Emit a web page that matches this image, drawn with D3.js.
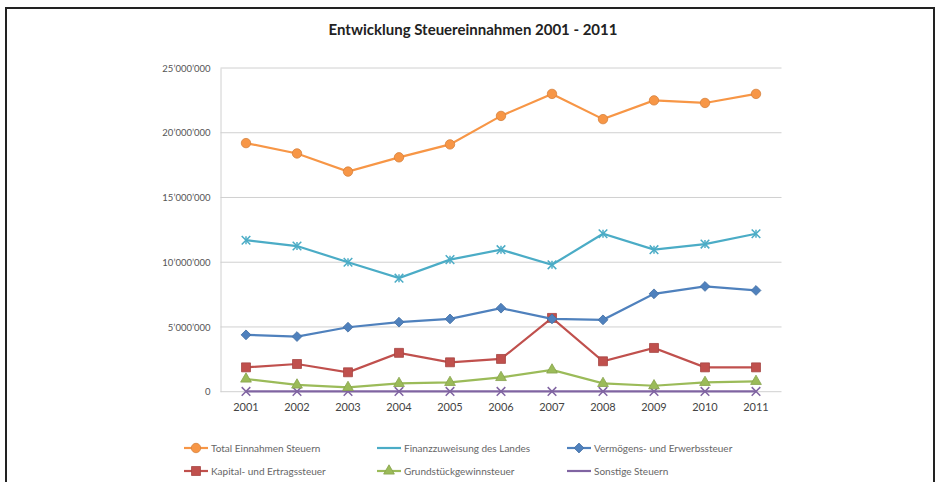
<!DOCTYPE html>
<html>
<head>
<meta charset="utf-8">
<script src="https://cdn.jsdelivr.net/npm/d3@7"></script>
<style>
  body { margin: 0; background: #fff; }
  svg { display: block; font-family: Lato, "Open Sans", sans-serif; }
</style>
</head>
<body>
<svg id="chart" width="938" height="482"></svg>
<script>
const years = ['2001', '2002', '2003', '2004', '2005', '2006', '2007', '2008', '2009', '2010', '2011'];

const totalEinnahmen = [19200000, 18400000, 17000000, 18100000, 19100000, 21300000, 23000000, 21050000, 22500000, 22300000, 23000000];
const finanzzuweisung = [11700000, 11250000, 10000000, 8770000, 10200000, 10970000, 9800000, 12200000, 10970000, 11400000, 12200000];
const vermoegensSteuer = [4390000, 4260000, 4980000, 5370000, 5620000, 6450000, 5620000, 5550000, 7560000, 8130000, 7820000];
const kapitalSteuer = [1880000, 2140000, 1500000, 3000000, 2270000, 2530000, 5700000, 2350000, 3380000, 1880000, 1880000];
const grundstueckSteuer = [980000, 520000, 330000, 640000, 720000, 1100000, 1680000, 640000, 460000, 720000, 800000];
const sonstigeSteuern = [20000, 20000, 20000, 20000, 20000, 20000, 20000, 20000, 20000, 20000, 20000];

const yTicks = [0, 5000000, 10000000, 15000000, 20000000, 25000000];

const seriesNames = [
  'Total Einnahmen Steuern', 'Finanzzuweisung des Landes', 'Vermögens- und Erwerbssteuer',
  'Kapital- und Ertragssteuer', 'Grundstückgewinnsteuer', 'Sonstige Steuern'
];

const series = [
  { name: seriesNames[0], values: totalEinnahmen, color: '#F79646', marker: 'circle' },
  { name: seriesNames[1], values: finanzzuweisung, color: '#4BACC6', marker: 'star' },
  { name: seriesNames[2], values: vermoegensSteuer, color: '#4F81BD', marker: 'diamond' },
  { name: seriesNames[3], values: kapitalSteuer, color: '#C0504D', marker: 'square' },
  { name: seriesNames[4], values: grundstueckSteuer, color: '#9BBB59', marker: 'triangle' },
  { name: seriesNames[5], values: sonstigeSteuern, color: '#8064A2', marker: 'cross' }
];

const svg = d3.select('#chart');

// frame of the scanned picture
svg.append('path')
  .attr('d', 'M6,490 V8 H934 V490')
  .attr('fill', 'none')
  .attr('stroke', '#222')
  .attr('stroke-width', 2);

svg.append('text')
  .attr('x', 473)
  .attr('y', 35)
  .attr('text-anchor', 'middle')
  .attr('font-size', 15)
  .attr('font-weight', 'bold')
  .attr('fill', '#222')
  .text('Entwicklung Steuereinnahmen 2001 - 2011');

const plot = { left: 220.5, right: 781.5, top: 68, bottom: 391.7 };

const scaleX = d3.scaleBand()
  .domain(years)
  .range([plot.left, plot.right]);

const scaleY = d3.scaleLinear()
  .domain([0, 25000000])
  .range([plot.bottom, plot.top]);

const fmt = v => d3.format(',')(v).replace(/,/g, '\u2019');

// gridlines
svg.append('g')
  .selectAll('line')
  .data(yTicks)
  .join('line')
  .attr('x1', plot.left)
  .attr('x2', plot.right)
  .attr('y1', d => scaleY(d))
  .attr('y2', d => scaleY(d))
  .attr('stroke', '#d0d0d0')
  .attr('stroke-width', 1);

const axisY = d3.axisLeft(scaleY)
  .tickValues(yTicks)
  .tickFormat(fmt)
  .tickSize(0)
  .tickPadding(10);

const groupAxisY = svg.append('g')
  .attr('transform', `translate(${plot.left},0)`)
  .call(axisY);
groupAxisY.select('.domain')
  .attr('stroke', '#d0d0d0');
groupAxisY.selectAll('text')
  .attr('font-size', 9.5)
  .attr('font-family', 'Lato, sans-serif')
  .attr('fill', '#555');

const axisX = d3.axisBottom(scaleX)
  .tickSize(0)
  .tickPadding(12);

const groupAxisX = svg.append('g')
  .attr('transform', `translate(0,${plot.bottom})`)
  .call(axisX);
groupAxisX.select('.domain').remove();
groupAxisX.selectAll('text')
  .attr('font-size', 11)
  .attr('font-family', 'Lato, sans-serif')
  .attr('fill', '#444');

const symbolFor = {
  circle: d3.symbol(d3.symbolCircle, 70),
  diamond: d3.symbol(d3.symbolSquare, 48),
  square: d3.symbol(d3.symbolSquare, 80),
  triangle: d3.symbol(d3.symbolTriangle, 50),
  star: d3.symbol(d3.symbolTimes, 50),
  cross: d3.symbol(d3.symbolTimes, 50)
};

const line = d3.line()
  .x((d, i) => scaleX(years[i]) + scaleX.bandwidth() / 2)
  .y(d => scaleY(d));

const drawMarker = (g, s, x, y) => {
  const rot = s.marker === 'diamond' ? ' rotate(45)' : '';
  const m = g.append('path')
    .attr('transform', `translate(${x},${y})${rot}`)
    .attr('d', symbolFor[s.marker]());
  if (s.marker === 'star' || s.marker === 'cross') {
    m.attr('fill', 'none').attr('stroke', s.color).attr('stroke-width', 1.5);
    if (s.marker === 'star') {
      g.append('line')
        .attr('x1', x).attr('x2', x)
        .attr('y1', y - 4).attr('y2', y + 4)
        .attr('stroke', s.color).attr('stroke-width', 1.5);
    }
  } else {
    m.attr('fill', s.color).attr('stroke', d3.color(s.color).darker(0.4)).attr('stroke-width', 0.8);
  }
};

// draw bottom series first so total ends on top
series.slice().reverse().forEach(s => {
  const g = svg.append('g');
  g.append('path')
    .attr('d', line(s.values))
    .attr('fill', 'none')
    .attr('stroke', s.color)
    .attr('stroke-width', 2.2);
  s.values.forEach((v, i) => {
    drawMarker(g, s, scaleX(years[i]) + scaleX.bandwidth() / 2, scaleY(v));
  });
});

// legend
const legendCols = [184, 377, 567];
const legendRows = [448, 471];
series.forEach((s, i) => {
  const x = legendCols[i % 3];
  const y = legendRows[Math.floor(i / 3)];
  const g = svg.append('g');
  g.append('line')
    .attr('x1', x).attr('x2', x + 24)
    .attr('y1', y).attr('y2', y)
    .attr('stroke', s.color)
    .attr('stroke-width', 2.2);
  if (s.marker !== 'star' && s.marker !== 'cross') {
    drawMarker(g, s, x + 12, y);
  }
  g.append('text')
    .attr('x', x + 27)
    .attr('y', y)
    .attr('dy', '0.35em')
    .attr('font-size', 10)
    .attr('fill', '#666')
    .text(s.name);
});
</script>
</body>
</html>
